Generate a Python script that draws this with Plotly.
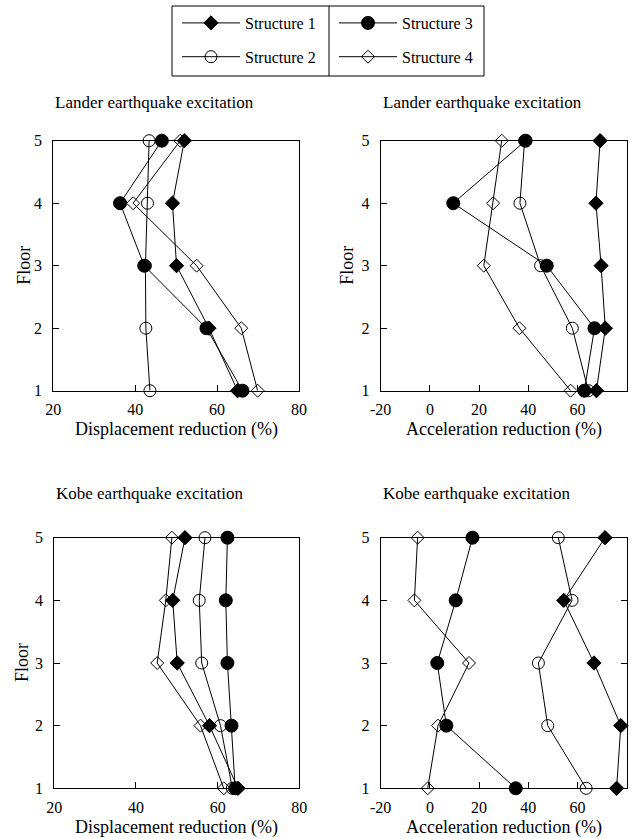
import plotly.graph_objects as go

W, H = 633, 839
FONT = "Liberation Serif, Times New Roman, serif"

floors = [1, 2, 3, 4, 5]
series_names = ["Structure 1", "Structure 2", "Structure 3", "Structure 4"]

# Lander earthquake - displacement reduction (%), floors 1..5
lander_disp_s1 = [65.0, 58.0, 50.1, 49.1, 52.0]
lander_disp_s2 = [43.6, 42.6, 42.5, 43.0, 43.4]
lander_disp_s3 = [66.2, 57.4, 42.2, 36.3, 46.5]
lander_disp_s4 = [69.9, 65.9, 55.0, 39.5, 51.0]

# Lander earthquake - acceleration reduction (%)
lander_acc_s1 = [67.7, 71.3, 69.6, 67.5, 69.2]
lander_acc_s2 = [64.4, 57.9, 45.0, 36.6, 38.5]
lander_acc_s3 = [62.8, 66.9, 47.5, 9.5, 38.9]
lander_acc_s4 = [57.2, 36.4, 21.9, 25.7, 29.2]

# Kobe earthquake - displacement reduction (%)
kobe_disp_s1 = [65.0, 58.0, 50.1, 49.0, 52.0]
kobe_disp_s2 = [63.6, 60.7, 56.1, 55.5, 56.9]
kobe_disp_s3 = [64.3, 63.4, 62.4, 62.0, 62.4]
kobe_disp_s4 = [61.5, 55.8, 45.2, 47.3, 48.8]

# Kobe earthquake - acceleration reduction (%)
kobe_acc_s1 = [75.9, 77.6, 66.7, 54.4, 71.2]
kobe_acc_s2 = [63.5, 47.9, 44.1, 57.8, 52.2]
kobe_acc_s3 = [34.9, 6.7, 3.0, 10.5, 17.3]
kobe_acc_s4 = [-0.9, 3.3, 15.9, -6.3, -5.0]

disp_ticks = [20, 40, 60, 80]
acc_ticks = [-20, 0, 20, 40, 60, 80]
floor_ticks = [1, 2, 3, 4, 5]


def px_x(p):
    return p / W


def px_y(p):
    return 1 - p / H


marker_styles = [
    dict(symbol="diamond", size=11, color="black", line=dict(color="black", width=1)),
    dict(symbol="circle-open", size=12, color="black", line=dict(color="black", width=1)),
    dict(symbol="circle", size=13, color="black", line=dict(color="black", width=1)),
    dict(symbol="diamond-open", size=10, color="black", line=dict(color="black", width=1)),
]
legend_of = ["legend", "legend", "legend2", "legend2"]

panels = [
    dict(data=[lander_disp_s1, lander_disp_s2, lander_disp_s3, lander_disp_s4],
         xr=[20, 80], ticks=disp_ticks, box=(53.3, 299.0, 140.7, 390.7),
         title="Lander earthquake excitation", title_y=102,
         xlabel="Displacement reduction (%)", floor=True, floor_x=24, mirror_ticks=False),
    dict(data=[lander_acc_s1, lander_acc_s2, lander_acc_s3, lander_acc_s4],
         xr=[-20, 80], ticks=acc_ticks, box=(380.7, 626.7, 140.7, 390.7),
         title="Lander earthquake excitation", title_y=102,
         xlabel="Acceleration reduction (%)", floor=True, floor_x=347, mirror_ticks=False),
    dict(data=[kobe_disp_s1, kobe_disp_s2, kobe_disp_s3, kobe_disp_s4],
         xr=[20, 80], ticks=disp_ticks, box=(54.3, 299.3, 537.7, 788.3),
         title="Kobe earthquake excitation", title_y=493,
         xlabel="Displacement reduction (%)", floor=True, floor_x=22, mirror_ticks=False),
    dict(data=[kobe_acc_s1, kobe_acc_s2, kobe_acc_s3, kobe_acc_s4],
         xr=[-20, 80], ticks=acc_ticks, box=(380.7, 626.7, 537.7, 788.3),
         title="Kobe earthquake excitation", title_y=493,
         xlabel="Acceleration reduction (%)", floor=False, floor_x=None, mirror_ticks=True),
]

fig = go.Figure()
annotations = []
layout_axes = {}

for i, p in enumerate(panels):
    n = "" if i == 0 else str(i + 1)
    xa, ya = "x" + n, "y" + n
    x0, x1, y0, y1 = p["box"]
    for k in range(4):
        fig.add_trace(go.Scatter(
            x=p["data"][k], y=floors, mode="lines+markers",
            name=series_names[k],
            line=dict(color="black", width=1),
            marker=marker_styles[k],
            cliponaxis=False,
            showlegend=(i == 0), legend=legend_of[k],
            legendgroup=series_names[k],
            xaxis=xa, yaxis=ya,
        ))
    common = dict(showline=True, linecolor="black", linewidth=1,
                  ticks="inside", ticklen=6, tickwidth=1, tickcolor="black",
                  showgrid=False, zeroline=False, automargin=False,
                  tickfont=dict(family=FONT, size=16, color="black"))
    layout_axes["xaxis" + n] = dict(common, domain=[px_x(x0), px_x(x1)], range=p["xr"],
                                    tickvals=p["ticks"], ticktext=[str(v) for v in p["ticks"]],
                                    mirror=True, anchor=ya, ticklabelstandoff=4)
    layout_axes["yaxis" + n] = dict(common, domain=[px_y(y1), px_y(y0)], range=[1, 5],
                                    tickvals=floor_ticks,
                                    mirror="ticks" if p["mirror_ticks"] else True,
                                    anchor=xa, ticklabelstandoff=7)
    annotations.append(dict(text=p["title"], x=px_x(x0), y=px_y(p["title_y"]),
                            xref="paper", yref="paper", xanchor="left", yanchor="middle",
                            showarrow=False, font=dict(family=FONT, size=17, color="black")))
    annotations.append(dict(text=p["xlabel"], x=px_x((x0 + x1) / 2), y=px_y(y1 + 39),
                            xref="paper", yref="paper", xanchor="center", yanchor="middle",
                            showarrow=False, font=dict(family=FONT, size=18, color="black")))
    if p["floor"]:
        annotations.append(dict(text="Floor", x=px_x(p["floor_x"]), y=px_y((y0 + y1) / 2),
                                xref="paper", yref="paper", xanchor="center", yanchor="middle",
                                textangle=-90, showarrow=False,
                                font=dict(family=FONT, size=18, color="black")))

leg_top, leg_bot = 6, 76
shapes = [
    dict(type="rect", xref="paper", yref="paper", x0=px_x(172), x1=px_x(484),
         y0=px_y(leg_bot), y1=px_y(leg_top), line=dict(color="black", width=1)),
    dict(type="line", xref="paper", yref="paper", x0=px_x(329), x1=px_x(329),
         y0=px_y(leg_bot), y1=px_y(leg_top), line=dict(color="black", width=1)),
]

legend_common = dict(bgcolor="rgba(0,0,0,0)", borderwidth=0, itemwidth=58,
                     font=dict(family=FONT, size=16, color="black"),
                     xanchor="left", yanchor="top", traceorder="grouped",
                     tracegroupgap=10, itemclick=False, itemdoubleclick=False)

fig.update_layout(
    width=W, height=H,
    margin=dict(l=0, r=0, t=0, b=0, autoexpand=False),
    paper_bgcolor="white", plot_bgcolor="white",
    showlegend=True,
    legend=dict(legend_common, x=px_x(177), y=px_y(6)),
    legend2=dict(legend_common, x=px_x(334), y=px_y(6)),
    annotations=annotations,
    shapes=shapes,
    **layout_axes,
)

fig.write_html(
    "out.html",
    config={"displayModeBar": False},
    post_script="document.body.style.margin='0';document.body.style.overflow='hidden';",
)
